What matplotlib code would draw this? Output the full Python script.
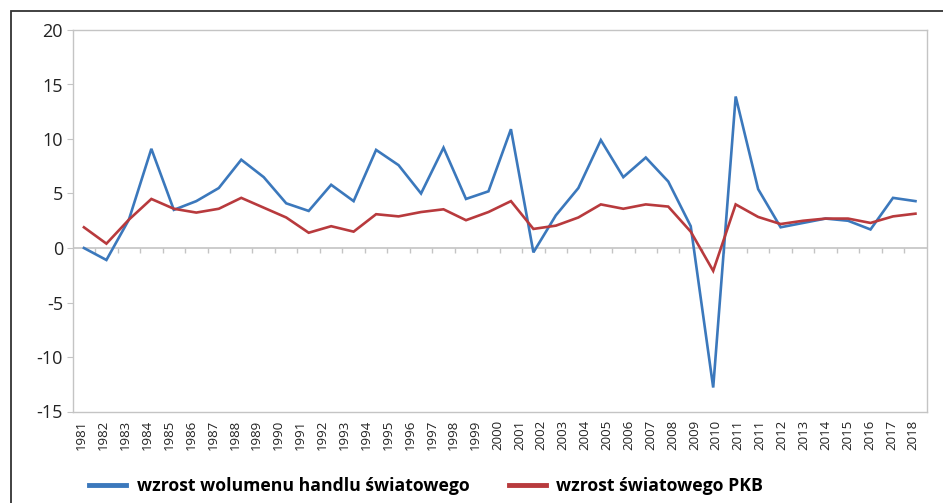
import matplotlib
matplotlib.use("Agg")
import matplotlib.pyplot as plt
from matplotlib.patches import Rectangle
import numpy as np

plt.rcParams['font.family'] = ['Open Sans', 'DejaVu Sans']
plt.rcParams['axes.unicode_minus'] = False

years = list(range(1981, 2019))
# labels as printed under the axis (note the doubled 2011)
tick_labels = [str(y) for y in range(1981, 2012)] + ["2011"] + [str(y) for y in range(2012, 2019)]

trade = [0.0, -1.1, 2.6, 9.1, 3.5, 4.3, 5.5, 8.1, 6.5, 4.1,
         3.4, 5.8, 4.3, 9.0, 7.6, 5.0, 9.2, 4.5, 5.2, 10.9,
         -0.4, 3.0, 5.5, 9.9, 6.5, 8.3, 6.1, 2.0, -12.8, 13.9,
         5.4, 1.9, 2.3, 2.7, 2.5, 1.7, 4.6, 4.3]
gdp = [1.9, 0.4, 2.6, 4.5, 3.6, 3.25, 3.6, 4.6, 3.7, 2.8,
       1.4, 2.0, 1.5, 3.1, 2.9, 3.3, 3.55, 2.55, 3.3, 4.3,
       1.75, 2.05, 2.8, 4.0, 3.6, 4.0, 3.8, 1.5, -2.1, 4.0,
       2.85, 2.2, 2.5, 2.7, 2.7, 2.3, 2.9, 3.15]

name_trade = "wzrost wolumenu handlu światowego"
name_gdp = "wzrost światowego PKB"

blue = "#3b78bc"
red = "#b83a3d"
grey = "#c4c4c4"

fig = plt.figure(figsize=(9.43, 5.03), dpi=100)
ax = fig.add_axes([72.7 / 943, 1 - 411.5 / 503, (926.7 - 72.7) / 943, (411.5 - 30) / 503])

x = np.arange(len(years))
ax.plot(x, trade, color=blue, lw=1.9, label=name_trade, solid_joinstyle="miter")
ax.plot(x, gdp, color=red, lw=1.9, label=name_gdp, solid_joinstyle="miter")

ax.set_xlim(-0.5, len(years) - 0.5)
ax.set_ylim(-15, 20)
ax.set_yticks(range(-15, 21, 5))
ax.set_yticklabels([str(v) for v in range(-15, 21, 5)], fontsize=13, color="#222222")
ax.tick_params(axis="y", length=4, color=grey, pad=3)

# category axis crossing at zero, tick marks between categories
ax.axhline(0, color=grey, lw=1.2, zorder=1)
bounds = np.arange(0.5, len(years) - 1, 1.0)
ax.vlines(bounds, -0.45, 0, color=grey, lw=1.0, zorder=1)

ax.set_xticks([])
ax.set_xticks(np.linspace(-0.1, 36.9, len(tick_labels)), minor=True)
ax.set_xticklabels(tick_labels, minor=True, rotation=90, fontsize=9.5, color="#222222")
ax.tick_params(axis="x", which="minor", length=0, pad=6)

for s in ax.spines.values():
    s.set_color(grey)
    s.set_linewidth(1.0)

fig.legend(loc="center", bbox_to_anchor=(0.452, 0.034), ncol=2, frameon=False,
           prop={"weight": "bold", "size": 12.7}, handlelength=2.1, handletextpad=0.6,
           columnspacing=2.2)
for line in fig.legends[0].get_lines():
    line.set_linewidth(3.5)

fig.patches.append(Rectangle((10.5 / 943, -0.2), 2, 1.2 - 10.5 / 503, transform=fig.transFigure,
                             fill=False, edgecolor="#333333", lw=1.3))

fig.savefig("out.png", dpi=100)
